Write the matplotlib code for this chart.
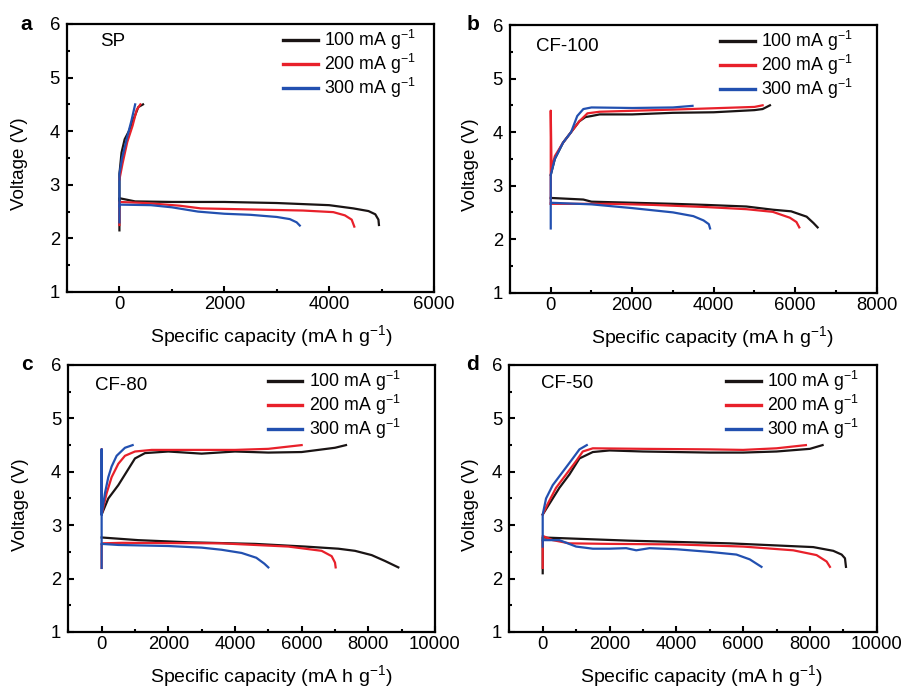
import matplotlib
matplotlib.use("Agg")
import matplotlib.pyplot as plt
from matplotlib.ticker import MultipleLocator

plt.rcParams['font.family'] = ['Liberation Sans', 'DejaVu Sans']
plt.rcParams['mathtext.fontset'] = 'custom'
plt.rcParams['mathtext.rm'] = 'Liberation Sans'
plt.rcParams['mathtext.it'] = 'Liberation Sans:italic'
plt.rcParams['mathtext.default'] = 'regular'

rates = ["100 mA g$^{-1}$", "200 mA g$^{-1}$", "300 mA g$^{-1}$"]
colors = ["#1a1414", "#e8202a", "#2250b0"]

# ---- SP ----
sp_100_dis_q = [0, 0, 300, 1000, 2000, 3000, 4000, 4460, 4750, 4880, 4940, 4950]
sp_100_dis_v = [2.15, 2.75, 2.69, 2.68, 2.68, 2.66, 2.62, 2.56, 2.51, 2.45, 2.35, 2.25]
sp_100_chg_q = [0, 0, 40, 100, 180, 280, 360, 450]
sp_100_chg_v = [2.7, 3.2, 3.6, 3.85, 4.0, 4.25, 4.45, 4.5]
sp_200_dis_q = [0, 0, 500, 1150, 1550, 2500, 3500, 4080, 4300, 4430, 4480]
sp_200_dis_v = [2.25, 2.68, 2.66, 2.61, 2.56, 2.54, 2.52, 2.49, 2.43, 2.35, 2.22]
sp_200_chg_q = [0, 60, 150, 250, 330, 400]
sp_200_chg_v = [3.1, 3.4, 3.8, 4.1, 4.4, 4.5]
sp_300_dis_q = [0, 0, 600, 1000, 1500, 2000, 2500, 3000, 3250, 3380, 3440]
sp_300_dis_v = [2.3, 2.63, 2.62, 2.58, 2.5, 2.46, 2.44, 2.40, 2.36, 2.3, 2.24]
sp_300_chg_q = [0, 0, 50, 150, 230, 300]
sp_300_chg_v = [2.6, 3.2, 3.5, 3.9, 4.2, 4.5]

# ---- CF-100 ----
cf100_100_dis_q = [0, 800, 1000, 2000, 3000, 3800, 4800, 5450, 5900, 6280, 6450, 6550]
cf100_100_dis_v = [2.77, 2.74, 2.70, 2.68, 2.66, 2.64, 2.61, 2.55, 2.52, 2.42, 2.3, 2.22]
cf100_100_chg_q = [0, 100, 300, 500, 700, 850, 1000, 1200, 2000, 3000, 4000, 5000, 5200, 5380]
cf100_100_chg_v = [3.2, 3.5, 3.8, 4.0, 4.2, 4.28, 4.3, 4.33, 4.33, 4.36, 4.37, 4.41, 4.43, 4.5]
cf100_200_dis_q = [0, 300, 1500, 2500, 3800, 4800, 5450, 5870, 6030, 6100]
cf100_200_dis_v = [2.66, 2.66, 2.66, 2.64, 2.60, 2.56, 2.51, 2.40, 2.32, 2.22]
cf100_200_chg_q = [0, 0, 20, 100, 300, 500, 700, 900, 1200, 3000, 5000, 5200]
cf100_200_chg_v = [2.66, 4.4, 3.3, 3.55, 3.8, 4.0, 4.2, 4.35, 4.38, 4.42, 4.47, 4.5]
cf100_300_dis_q = [0, 0, 1000, 2000, 3000, 3500, 3750, 3880, 3910]
cf100_300_dis_v = [2.2, 2.68, 2.65, 2.58, 2.5, 2.43, 2.35, 2.28, 2.2]
cf100_300_chg_q = [0, 0, 100, 300, 500, 650, 800, 1000, 2000, 3000, 3480]
cf100_300_chg_v = [2.7, 3.2, 3.5, 3.8, 4.0, 4.3, 4.43, 4.46, 4.45, 4.46, 4.49]

# ---- CF-80 ----
cf80_100_dis_q = [0, 1100, 2600, 4600, 6100, 7100, 7600, 8100, 8500, 8900]
cf80_100_dis_v = [2.77, 2.72, 2.68, 2.65, 2.60, 2.56, 2.52, 2.44, 2.33, 2.21]
cf80_100_chg_q = [0, 200, 500, 800, 1000, 1300, 2000, 3000, 4000, 5000, 6000, 7000, 7330]
cf80_100_chg_v = [3.2, 3.5, 3.75, 4.05, 4.25, 4.35, 4.38, 4.34, 4.38, 4.36, 4.37, 4.45, 4.5]
cf80_200_dis_q = [0, 0, 600, 3600, 5600, 6600, 6900, 7000, 7020]
cf80_200_dis_v = [2.2, 2.66, 2.67, 2.66, 2.60, 2.52, 2.42, 2.3, 2.21]
cf80_200_chg_q = [0, 0, 150, 300, 500, 700, 1000, 1500, 3000, 4000, 5000, 6000]
cf80_200_chg_v = [4.42, 3.2, 3.6, 3.9, 4.15, 4.3, 4.38, 4.41, 4.41, 4.41, 4.43, 4.5]
cf80_300_dis_q = [0, 0, 500, 2000, 3000, 3600, 4200, 4640, 4880, 5000]
cf80_300_dis_v = [2.2, 2.65, 2.63, 2.61, 2.58, 2.54, 2.48, 2.39, 2.28, 2.21]
cf80_300_chg_q = [0, 0, 0, 100, 200, 300, 450, 700, 930]
cf80_300_chg_v = [2.65, 4.42, 3.2, 3.6, 3.9, 4.1, 4.3, 4.45, 4.5]

# ---- CF-50 ----
cf50_100_dis_q = [0, 0, 2600, 5600, 8100, 8700, 8950, 9050, 9080]
cf50_100_dis_v = [2.1, 2.77, 2.71, 2.66, 2.59, 2.52, 2.45, 2.38, 2.22]
cf50_100_chg_q = [0, 200, 500, 800, 1100, 1500, 2000, 3000, 4000, 5000, 6000, 7000, 8000, 8380]
cf50_100_chg_v = [3.2, 3.4, 3.7, 3.95, 4.25, 4.37, 4.4, 4.38, 4.37, 4.36, 4.36, 4.38, 4.43, 4.5]
cf50_200_dis_q = [0, 0, 300, 800, 2000, 4000, 6000, 7500, 8200, 8500, 8600]
cf50_200_dis_v = [2.2, 2.8, 2.72, 2.66, 2.65, 2.64, 2.6, 2.53, 2.44, 2.32, 2.22]
cf50_200_chg_q = [0, 150, 400, 700, 1000, 1200, 1500, 3000, 5000, 6000, 7000, 7880]
cf50_200_chg_v = [3.2, 3.4, 3.7, 3.95, 4.2, 4.38, 4.44, 4.43, 4.42, 4.41, 4.44, 4.5]
cf50_300_dis_q = [0, 0, 500, 1000, 1500, 2000, 2500, 2800, 3200, 4000, 5000, 5800, 6200, 6550]
cf50_300_dis_v = [2.6, 2.72, 2.72, 2.6, 2.56, 2.56, 2.57, 2.53, 2.57, 2.55, 2.5, 2.45, 2.36, 2.22]
cf50_300_chg_q = [0, 0, 100, 300, 600, 900, 1100, 1320]
cf50_300_chg_v = [2.72, 3.2, 3.5, 3.75, 4.0, 4.25, 4.42, 4.5]

# letter, sample, xmax, axes box (px), sample pos, legend x, xlabel centre (px), ylabel offset, letter offset
panels = [
    ("a", "SP", 6000, [67, 24, 434, 292], (0.09, 0.933), 0.589, 271, 47, 35,
     [(sp_100_dis_q, sp_100_dis_v, sp_100_chg_q, sp_100_chg_v),
      (sp_200_dis_q, sp_200_dis_v, sp_200_chg_q, sp_200_chg_v),
      (sp_300_dis_q, sp_300_dis_v, sp_300_chg_q, sp_300_chg_v)]),
    ("b", "CF-100", 8000, [510, 25, 876.7, 292.7], (0.071, 0.919), 0.573, 712, 40, 31,
     [(cf100_100_dis_q, cf100_100_dis_v, cf100_100_chg_q, cf100_100_chg_v),
      (cf100_200_dis_q, cf100_200_dis_v, cf100_200_chg_q, cf100_200_chg_v),
      (cf100_300_dis_q, cf100_300_dis_v, cf100_300_chg_q, cf100_300_chg_v)]),
    ("c", "CF-80", 10000, [68.3, 365, 435, 632], (0.073, 0.925), 0.544, 271.5, 48, 36,
     [(cf80_100_dis_q, cf80_100_dis_v, cf80_100_chg_q, cf80_100_chg_v),
      (cf80_200_dis_q, cf80_200_dis_v, cf80_200_chg_q, cf80_200_chg_v),
      (cf80_300_dis_q, cf80_300_dis_v, cf80_300_chg_q, cf80_300_chg_v)]),
    ("d", "CF-50", 10000, [509.3, 365, 876.7, 632], (0.085, 0.931), 0.59, 701, 39, 30,
     [(cf50_100_dis_q, cf50_100_dis_v, cf50_100_chg_q, cf50_100_chg_v),
      (cf50_200_dis_q, cf50_200_dis_v, cf50_200_chg_q, cf50_200_chg_v),
      (cf50_300_dis_q, cf50_300_dis_v, cf50_300_chg_q, cf50_300_chg_v)]),
]

W, H = 907, 688
fig = plt.figure(figsize=(W / 100, H / 100), dpi=100)

for letter, name, xmax, box, name_pos, leg_x, xl_c, yl_off, let_off, curves in panels:
    l, t, r, b = box
    aw, ah = r - l, b - t
    ax = fig.add_axes([l / W, 1 - b / H, aw / W, ah / H])
    for i, (dq, dv, cq, cv) in enumerate(curves):
        ax.plot(dq, dv, color=colors[i], lw=1.6, label=rates[i])
        ax.plot(cq, cv, color=colors[i], lw=1.6)
    ax.set_xlim(-1000, xmax)
    ax.set_ylim(1, 6)
    ax.xaxis.set_minor_locator(MultipleLocator(1000))
    ax.yaxis.set_major_locator(MultipleLocator(1))
    ax.yaxis.set_minor_locator(MultipleLocator(0.5))
    ax.set_xticks([v for v in range(0, xmax + 1, 2000)])
    ax.tick_params(which='both', direction='in', top=False, right=False, width=1.5, labelsize=13.3)
    ax.tick_params(which='major', length=4)
    ax.tick_params(axis='x', which='major', pad=3)
    ax.tick_params(axis='y', which='major', pad=5)
    ax.tick_params(which='minor', length=2.5)
    for s in ax.spines.values():
        s.set_linewidth(1.6)
    ax.set_xlabel("Specific capacity (mA h g$^{-1}$)", fontsize=14, va='center')
    ax.xaxis.set_label_coords((xl_c - l) / aw, -44 / ah)
    ax.set_ylabel("Voltage (V)", fontsize=13.5, va='center')
    ax.yaxis.set_label_coords(-yl_off / aw, 0.477)
    ax.text(name_pos[0], name_pos[1], name, transform=ax.transAxes, fontsize=13.5, va='center', ha='left')
    ax.text(-let_off / aw, 1.0, letter, transform=ax.transAxes, fontsize=15, fontweight='bold', va='center', ha='right')
    leg = ax.legend(loc='upper left', bbox_to_anchor=(leg_x, 0.985), frameon=False, fontsize=12.8,
                    handlelength=1.95, handletextpad=0.35, labelspacing=0.0, borderpad=0, borderaxespad=0)
    for h in leg.get_lines():
        h.set_linewidth(2.4)

fig.savefig("out.png", dpi=100)
